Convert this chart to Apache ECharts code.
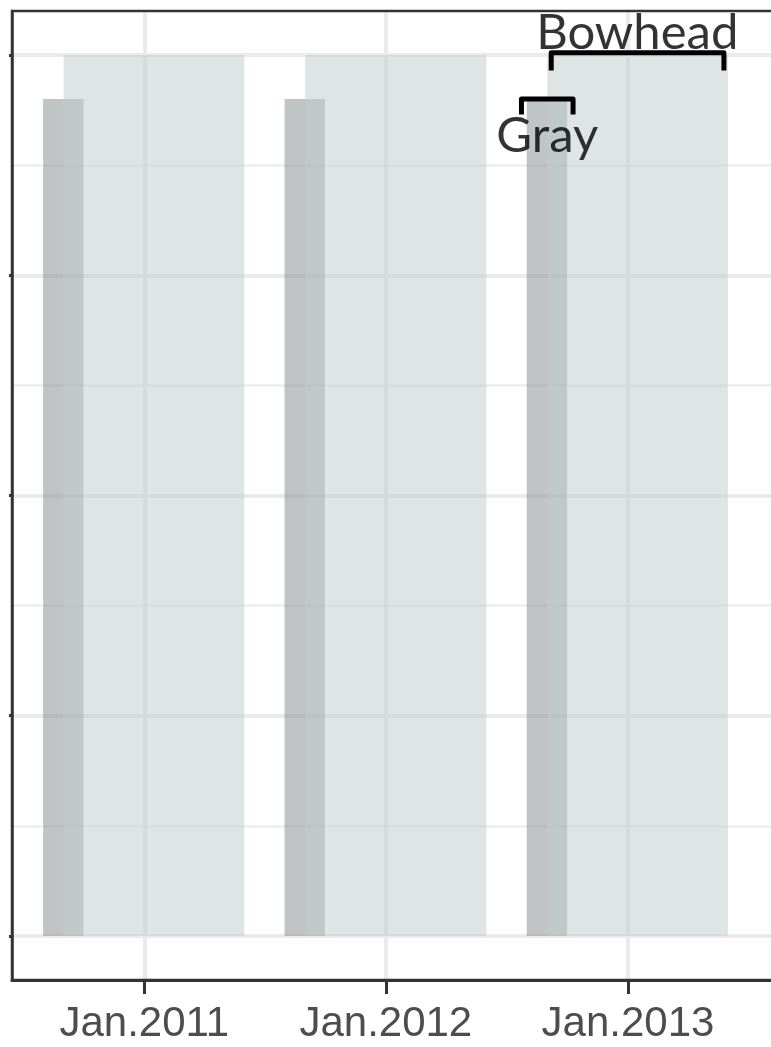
<!DOCTYPE html>
<html>
<head>
<meta charset="utf-8">
<script src="https://cdn.jsdelivr.net/npm/echarts@6/dist/echarts.min.js"></script>
<style>
html,body{margin:0;padding:0;background:#fff;overflow:hidden;}
#chart{width:810px;height:1047px;}
</style>
</head>
<body>
<div id="chart"></div>
<script>
// ---- data ----
var grayStart = ['2010-08-01', '2011-08-01', '2012-08-01'];
var grayEnd   = ['2010-10-01', '2011-10-01', '2012-10-01'];
var grayTop   = [3.8, 3.8, 3.8];
var bowStart  = ['2010-09-01', '2011-09-01', '2012-09-01'];
var bowEnd    = ['2011-06-01', '2012-06-01', '2013-06-01'];
var bowTop    = [4, 4, 4];

var xTickDates = ['2011-01-01', '2012-01-01', '2013-01-01'];
var xTickLabels = ['Jan.2011', 'Jan.2012', 'Jan.2013'];
var yMajor = [0, 1, 2, 3, 4];
var yMinor = [0.5, 1.5, 2.5, 3.5];

var bowBracketX = ['2012-09-07', '2013-05-26'];
var bowBracketY = [3.93, 4.01];
var grayBracketX = ['2012-07-24', '2012-10-10'];
var grayBracketY = [3.73, 3.80];

var labelText = ['Bowhead', 'Gray'];
var labelX = ['2013-01-15', '2012-09-01'];
var labelY = [4.10, 3.63];

var xMin = '2010-06-15';
var xMax = '2013-09-18';

function ts(s) {
  var p = s.split('-');
  return Date.UTC(+p[0], +p[1] - 1, +p[2]);
}

var xTickTs = xTickDates.map(ts);

var rectSeries = function (starts, ends, tops, color, z) {
  var data = starts.map(function (s, i) { return [ts(s), ts(ends[i]), tops[i]]; });
  return {
    type: 'custom',
    z: z,
    silent: true,
    data: data,
    encode: { x: [0, 1], y: 2 },
    renderItem: function (params, api) {
      var p0 = api.coord([api.value(0), 0]);
      var p1 = api.coord([api.value(1), api.value(2)]);
      return {
        type: 'rect',
        shape: { x: p0[0], y: p1[1], width: p1[0] - p0[0], height: p0[1] - p1[1] },
        style: { fill: color }
      };
    }
  };
};

function bracket(xs, ys) {
  return [[ts(xs[0]), ys[0]], [ts(xs[0]), ys[1]], [ts(xs[1]), ys[1]], [ts(xs[1]), ys[0]]];
}

var gridLines = [];
yMajor.forEach(function (v) { gridLines.push({ yAxis: v, lineStyle: { color: '#ebebeb', width: 4, type: 'solid' } }); });
yMinor.forEach(function (v) { gridLines.push({ yAxis: v, lineStyle: { color: '#eeeeee', width: 2.5, type: 'solid' } }); });
xTickTs.forEach(function (d) { gridLines.push({ xAxis: d, lineStyle: { color: '#ebebeb', width: 4, type: 'solid' } }); });

var chart = echarts.init(document.getElementById('chart'), null, { renderer: 'canvas' });
chart.setOption({
  backgroundColor: '#ffffff',
  animation: false,
  grid: {
    left: 12, top: 11, width: 788, height: 969,
    show: true, z: 10, borderColor: '#333333', borderWidth: 2.5, backgroundColor: 'transparent'
  },
  xAxis: {
    type: 'value',
    min: ts(xMin), max: ts(xMax),
    z: 10,
    axisLine: { show: true, onZero: false, lineStyle: { color: '#333333', width: 3 } },
    axisTick: { show: true, length: 14, lineStyle: { color: '#333333', width: 3 },
      customValues: xTickTs },
    axisLabel: {
      show: true, margin: 23, fontSize: 42, color: '#4d4d4d',
      fontFamily: 'Liberation Sans, Arial, sans-serif',
      customValues: xTickTs,
      formatter: function (v) {
        var i = xTickTs.indexOf(v);
        return i >= 0 ? xTickLabels[i] : '';
      }
    },
    splitLine: { show: false }
  },
  yAxis: {
    type: 'value',
    min: -0.2, max: 4.2,
    z: 10,
    axisLine: { show: true, onZero: false, lineStyle: { color: '#333333', width: 2.5 } },
    axisTick: { show: true, length: 3, lineStyle: { color: '#333333', width: 3 }, customValues: yMajor },
    axisLabel: { show: false },
    splitLine: { show: false }
  },
  series: [
    {
      type: 'line',
      data: [],
      z: 1,
      silent: true,
      markLine: {
        z: 1,
        silent: true,
        symbol: ['none', 'none'],
        label: { show: false },
        animation: false,
        data: gridLines
      }
    },
    rectSeries(grayStart, grayEnd, grayTop, 'rgba(129,137,139,0.5)', 2),
    rectSeries(bowStart, bowEnd, bowTop, 'rgba(194,206,204,0.52)', 3),
    {
      type: 'line', z: 6, silent: true, symbol: 'none',
      data: bracket(bowBracketX, bowBracketY),
      lineStyle: { color: '#000000', width: 5, join: 'round', cap: 'butt' }
    },
    {
      type: 'line', z: 6, silent: true, symbol: 'none',
      data: bracket(grayBracketX, grayBracketY),
      lineStyle: { color: '#000000', width: 5, join: 'round', cap: 'butt' }
    },
    {
      type: 'scatter', z: 7, silent: true,
      symbolSize: 0,
      itemStyle: { color: 'rgba(0,0,0,0)' },
      data: labelText.map(function (t, i) { return { value: [ts(labelX[i]), labelY[i]], name: t }; }),
      label: {
        show: true, position: 'inside',
        formatter: function (p) { return p.name; },
        fontSize: 49, color: '#000000', fontFamily: 'Lato, Carlito, sans-serif'
      }
    }
  ]
});
</script>
</body>
</html>
